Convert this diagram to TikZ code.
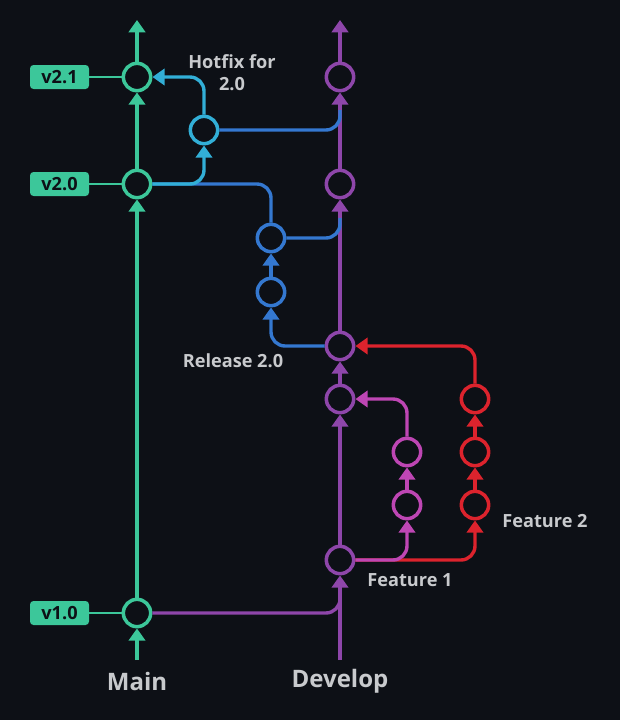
\documentclass[tikz,border=0pt]{standalone}
\usepackage{fontspec}
\setmainfont{Open Sans}
\usetikzlibrary{arrows.meta,positioning}

\definecolor{bgdark}{HTML}{0D1016}
\definecolor{maingreen}{HTML}{3CC79A}
\definecolor{devpurple}{HTML}{8E46AA}
\definecolor{hotcyan}{HTML}{32AFD7}
\definecolor{relblue}{HTML}{3478D0}
\definecolor{featmagenta}{HTML}{BE46B4}
\definecolor{featred}{HTML}{DC232D}
\definecolor{labelgrey}{HTML}{C8CACD}

\begin{document}
\begin{tikzpicture}[x=0.03cm, y=-0.03cm,
    commit/.style={circle, draw, line width=3pt, fill=bgdark, minimum size=0.82cm, inner sep=0pt},
    branch/.style={line width=2.9pt, rounded corners=12pt},
    arr/.style={-{Triangle[width=14pt,length=10.5pt]}},
    tag/.style={fill=maingreen, rounded corners=3pt, minimum width=1.77cm, minimum height=0.72cm,
        inner sep=0pt, text=bgdark, font=\bfseries\fontsize{15.5}{15.5}\selectfont},
    lbl/.style={text=labelgrey, font=\bfseries\fontsize{15.5}{19}\selectfont, align=center},
    title/.style={text=labelgrey, font=\bfseries\fontsize{20.5}{24}\selectfont}]

    % Background
    \fill[bgdark] (0,0) rectangle (620,720);
    \useasboundingbox (0,0) rectangle (620,720);

    % Main branch
    \coordinate (maintop) at (137,20);
    \coordinate (mainbot) at (137,660);
    \node[commit, draw=maingreen] (v10) at (137,613) {};
    \node[commit, draw=maingreen] (v20) at (137,184) {};
    \node[commit, draw=maingreen] (v21) at (137,77) {};

    % Develop branch
    \coordinate (devtop) at (340,20);
    \coordinate (devbot) at (340,660);
    \foreach \n/\y in {d1/560, d2/399, d3/346, d4/184, d5/77} {
        \node[commit, draw=devpurple] (\n) at (340,\y) {};
    }

    % Hotfix and release commits
    \node[commit, draw=hotcyan] (hf) at (204,130) {};
    \node[commit, draw=relblue] (r1) at (271,292) {};
    \node[commit, draw=relblue] (r2) at (271,238) {};

    % Feature commits
    \node[commit, draw=featmagenta] (f1a) at (407,505) {};
    \node[commit, draw=featmagenta] (f1b) at (407,452) {};
    \node[commit, draw=featred] (f2a) at (475,505) {};
    \node[commit, draw=featred] (f2b) at (475,452) {};
    \node[commit, draw=featred] (f2c) at (475,399) {};

    % Merge points on develop
    \coordinate (m0) at (340,592);
    \coordinate (m1) at (340,110);
    \coordinate (m2) at (340,218);

    % Version tags
    \foreach \c/\t in {v10/v1.0, v20/v2.0, v21/v2.1} {
        \node[tag, left=0.97cm of \c] (tag\c) {\t};
        \draw[maingreen, line width=1.3pt] (tag\c.east) -- (\c.west);
    }

    % Main line
    \draw[branch, maingreen, arr] (mainbot) -- (v10.south);
    \draw[branch, maingreen, arr] (v10.north) -- (v20.south);
    \draw[branch, maingreen, arr] (v20.north) -- (v21.south);
    \draw[branch, maingreen, arr] (v21.north) -- (maintop);

    % Develop line
    \draw[branch, devpurple, arr] (devbot) -- (d1.south);
    \draw[branch, devpurple, arr] (d1.north) -- (d2.south);
    \draw[branch, devpurple, arr] (d2.north) -- (d3.south);
    \draw[branch, devpurple, arr] (d3.north) -- (d4.south);
    \draw[branch, devpurple, arr] (d4.north) -- (d5.south);
    \draw[branch, devpurple, arr] (d5.north) -- (devtop);
    \draw[branch, devpurple] (v10.east) -| (m0);

    % Release
    \draw[branch, relblue, arr] (d3.west) -| (r1.south);
    \draw[branch, relblue, arr] (r1.north) -- (r2.south);
    \draw[branch, relblue] (r2.north) |- (v20.east);
    \draw[branch, relblue] (r2.east) -| (m2);

    % Hotfix
    \draw[branch, hotcyan, arr] (v20.east) -| (hf.south);
    \draw[branch, hotcyan, arr] (hf.north) |- (v21.east);
    \draw[branch, relblue] (hf.east) -| (m1);

    % Features
    \draw[branch, featred, arr] (d1.east) -| (f2a.south);
    \draw[branch, featred, arr] (f2a.north) -- (f2b.south);
    \draw[branch, featred, arr] (f2b.north) -- (f2c.south);
    \draw[branch, featred, arr] (f2c.north) |- (d3.east);
    \draw[branch, featmagenta, arr] (d1.east) -| (f1a.south);
    \draw[branch, featmagenta, arr] (f1a.north) -- (f1b.south);
    \draw[branch, featmagenta, arr] (f1b.north) |- (d2.east);

    % Labels
    \node[lbl] (hflbl) at (232,73) {Hotfix for\\2.0};
    \node[lbl] (rellbl) at (233,361) {Release 2.0};
    \node[lbl] (f1lbl) at (410,580) {Feature 1};
    \node[lbl] (f2lbl) at (545,521) {Feature 2};
    \node[title] (mainlbl) at (137,681) {Main};
    \node[title] (devlbl) at (340,681) {Develop};
\end{tikzpicture}
\end{document}
